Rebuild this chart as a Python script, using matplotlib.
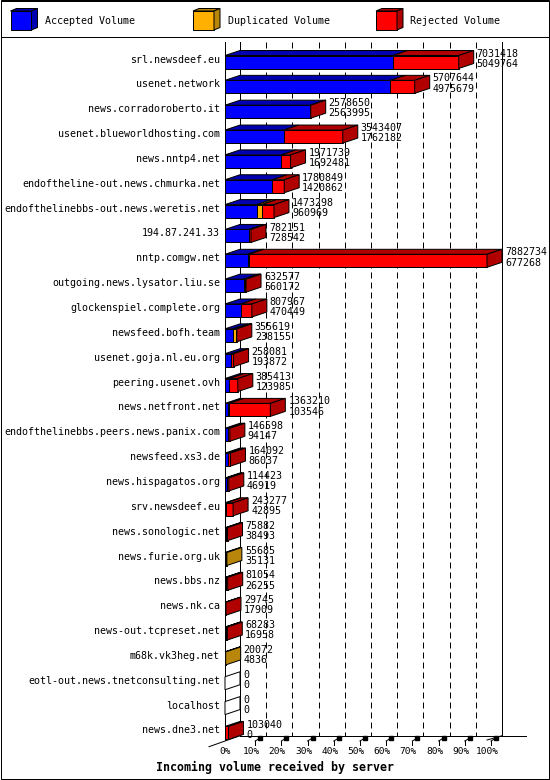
import matplotlib
matplotlib.use("Agg")
import matplotlib.pyplot as plt
from matplotlib.patches import Polygon, Rectangle
import numpy as np

servers = ["srl.newsdeef.eu", "usenet.network", "news.corradoroberto.it",
           "usenet.blueworldhosting.com", "news.nntp4.net",
           "endoftheline-out.news.chmurka.net",
           "endofthelinebbs-out.news.weretis.net", "194.87.241.33",
           "nntp.comgw.net", "outgoing.news.lysator.liu.se",
           "glockenspiel.complete.org", "newsfeed.bofh.team",
           "usenet.goja.nl.eu.org", "peering.usenet.ovh", "news.netfront.net",
           "endofthelinebbs.peers.news.panix.com", "newsfeed.xs3.de",
           "news.hispagatos.org", "srv.newsdeef.eu", "news.sonologic.net",
           "news.furie.org.uk", "news.bbs.nz", "news.nk.ca",
           "news-out.tcpreset.net", "m68k.vk3heg.net",
           "eotl-out.news.tnetconsulting.net", "localhost", "news.dne3.net"]

total = [7031418, 5707644, 2578650, 3543407, 1971739, 1780849, 1473298, 782151,
         7882734, 632577, 807967, 355619, 258081, 385413, 1363210, 146598,
         164092, 114423, 243277, 75882, 55685, 81054, 29745, 68283, 20072,
         0, 0, 103040]
accepted = [5049764, 4975679, 2563995, 1762182, 1692481, 1420862, 960969, 728542,
            677268, 560172, 470449, 238155, 193872, 123985, 103546, 94147,
            86037, 46919, 42895, 38493, 35131, 26255, 17909, 16958, 4836,
            0, 0, 0]
# duplicated / rejected split read off the bar segments (estimates)
duplicated = [0, 0, 0, 0, 0, 0, 140000, 0,
              45000, 30000, 0, 84000, 0, 0, 15000, 0,
              0, 15000, 0, 0, 20554, 10000, 0, 0, 15236,
              0, 0, 0]
rejected = [1981654, 731965, 14655, 1781225, 279258, 359987, 372329, 53609,
            7160466, 42405, 337518, 33464, 64209, 261428, 1244664, 52451,
            78055, 52504, 200382, 37389, 0, 44799, 11836, 51325, 0,
            0, 0, 103040]

ticks = [0, 10, 20, 30, 40, 50, 60, 70, 80, 90, 100]

front = ["#0000ff", "#ffb000", "#ff0000"]
dark = ["#0000b0", "#b8860b", "#b00000"]
names = ["Accepted Volume", "Duplicated Volume", "Rejected Volume"]

W, H = 550, 780
X0, SX = 225.0, 2.62      # pixel of 0 %, pixels per %
Y0, SY = 62.0, 24.85      # pixel of first row, pixels per row


def P(xp, yp):
    return ((xp - X0) / SX, (yp - Y0) / SY)


DX = 15 / SX
DY = -5 / SY
HALF = 6.5 / SY
LW = 0.72

plt.rcParams['font.family'] = ['DejaVu Sans Mono']
fig = plt.figure(figsize=(W / 100, H / 100), dpi=100)
ax = fig.add_axes([0, 0, 1, 1])
ax.set_xlim(P(0, 0)[0], P(W, 0)[0])
ax.set_ylim(P(0, H)[1], P(0, 0)[1])
ax.axis("off")

# back wall, grid lines
ytop_wall = P(0, 42)[1]
yfloor = P(0, 735.7)[1]
for t in ticks:
    style = "-" if t in (0, 100) else (0, (6, 4))
    ax.plot([t + DX, t + DX], [ytop_wall, yfloor], color="black", lw=LW,
            linestyle=style, zorder=1)
ax.plot([0, 0], [P(0, 42)[1], P(0, 740)[1]], color="black", lw=LW, zorder=1)

# floor
ax.plot([P(240, 0)[0], P(526, 0)[0]], [yfloor, yfloor], color="black", lw=LW, zorder=1)
ax.plot([P(209, 0)[0], P(240, 0)[0]], [P(0, 746.7)[1], yfloor], color="black", lw=LW, zorder=1)
ax.plot([100, 100 + DX], [P(0, 740)[1], yfloor], color="black", lw=LW, zorder=1)
for t in ticks[1:]:
    xa = t + 4 / SX
    xb = t + 9 / SX
    ax.plot([xa, xa], [P(0, 741)[1], P(0, 745)[1]], color="black", lw=LW, zorder=1)
    ax.plot([xa, xb], [P(0, 741)[1], P(0, 738)[1]], color="black", lw=LW, zorder=1)
    ax.plot([xb], [P(0, 738)[1]], marker="s", ms=2.2, color="black", zorder=1)
for t in ticks:
    ax.text(t, P(0, 752)[1], f"{t}%", ha="center", va="center", fontsize=6.8)

vmax = max(total)
for i, name in enumerate(servers):
    segs = [accepted[i], duplicated[i], rejected[i]]
    y0, y1 = i - HALF, i + HALF
    x = 0.0
    last = None
    for k, v in enumerate(segs):
        if v <= 0:
            continue
        w = v / vmax * 100
        ax.add_patch(Rectangle((x, y0), w, y1 - y0, facecolor=front[k],
                               edgecolor="black", lw=LW, zorder=3))
        ax.add_patch(Polygon([(x, y0), (x + w, y0), (x + w + DX, y0 + DY),
                              (x + DX, y0 + DY)], closed=True,
                             facecolor=dark[k], edgecolor="black", lw=LW, zorder=3))
        x += w
        last = k
    side = "white" if last is None else dark[last]
    ax.add_patch(Polygon([(x, y0), (x + DX, y0 + DY), (x + DX, y1 + DY), (x, y1)],
                         closed=True, facecolor=side, edgecolor="black", lw=LW, zorder=3))
    ax.text(P(220, 0)[0], i - 0.1, name, ha="right", va="center", fontsize=7.2)
    xt = x + DX + 3 / SX
    ax.text(xt, i - 0.34, str(total[i]), ha="left", va="center", fontsize=7.2, zorder=5)
    ax.text(xt, i + 0.07, str(accepted[i]), ha="left", va="center", fontsize=7.2, zorder=5)

# legend box
ax.add_patch(Rectangle(P(0.5, 37), (W - 1.5) / SX, -37 / SY, facecolor="none",
                       edgecolor="black", lw=LW, zorder=2))
ax.add_patch(Rectangle(P(0.5, H - 0.5), (W - 1.5) / SX, -(H - 1) / SY, facecolor="none",
                       edgecolor="black", lw=LW, zorder=2))
ldx, ldy = 6 / SX, -2.5 / SY
for k, xp in enumerate([10.5, 193, 376]):
    bx, by = P(xp, 11)
    bw = 21 / SX
    bh = 19 / SY
    ax.add_patch(Rectangle((bx, by), bw, bh, facecolor=front[k], edgecolor="black",
                           lw=LW, zorder=3))
    ax.add_patch(Polygon([(bx, by), (bx + bw, by), (bx + bw + ldx, by + ldy),
                          (bx + ldx, by + ldy)], closed=True, facecolor=dark[k],
                         edgecolor="black", lw=LW, zorder=3))
    ax.add_patch(Polygon([(bx + bw, by), (bx + bw + ldx, by + ldy),
                          (bx + bw + ldx, by + bh + ldy), (bx + bw, by + bh)],
                         closed=True, facecolor=dark[k], edgecolor="black", lw=LW, zorder=3))
    tx, ty = P(xp + 34.5, 21)
    ax.text(tx, ty, names[k], ha="left", va="center", fontsize=7.2)

tx, ty = P(275, 767)
ax.text(tx, ty, "Incoming volume received by server", ha="center", va="center",
        fontsize=8.4, fontweight="bold")

fig.savefig("out.png", dpi=100)
